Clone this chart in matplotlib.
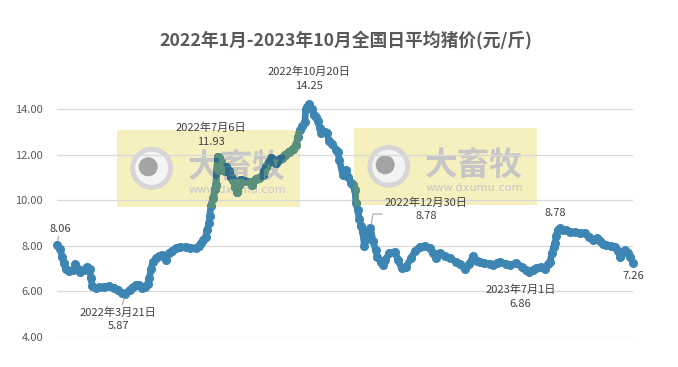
import matplotlib.pyplot as plt
from matplotlib.patches import Rectangle, Circle
from matplotlib.textpath import TextPath
from matplotlib.font_manager import FontProperties
from matplotlib.transforms import Affine2D
import pandas as pd

plt.rcParams['font.family'] = ['Noto Sans CJK SC', 'DejaVu Sans']

# daily average pig price, yuan per jin
dates = [
    '2022-01-01', '2022-01-05', '2022-01-07', '2022-01-09', '2022-01-11', '2022-01-15',
    '2022-01-20', '2022-01-22', '2022-01-25', '2022-01-28', '2022-02-01', '2022-02-05',
    '2022-02-08', '2022-02-09', '2022-02-11', '2022-02-15', '2022-02-19', '2022-02-25',
    '2022-03-02', '2022-03-08', '2022-03-13', '2022-03-17', '2022-03-21', '2022-03-26',
    '2022-03-30', '2022-04-03', '2022-04-06', '2022-04-10', '2022-04-13', '2022-04-16',
    '2022-04-18', '2022-04-20', '2022-04-22', '2022-04-26', '2022-04-29', '2022-05-03',
    '2022-05-07', '2022-05-11', '2022-05-14', '2022-05-19', '2022-05-24', '2022-05-30',
    '2022-06-04', '2022-06-11', '2022-06-14', '2022-06-17', '2022-06-19', '2022-06-22',
    '2022-06-24', '2022-06-26', '2022-06-27', '2022-06-28', '2022-07-01', '2022-07-03',
    '2022-07-04', '2022-07-05', '2022-07-06', '2022-07-08', '2022-07-10', '2022-07-12',
    '2022-07-14', '2022-07-16', '2022-07-19', '2022-07-21', '2022-07-24', '2022-07-26',
    '2022-07-29', '2022-07-31', '2022-08-02', '2022-08-06', '2022-08-12', '2022-08-15',
    '2022-08-19', '2022-08-23', '2022-08-27', '2022-08-29', '2022-08-31', '2022-09-03',
    '2022-09-06', '2022-09-09', '2022-09-12', '2022-09-16', '2022-09-19', '2022-09-22',
    '2022-09-27', '2022-10-01', '2022-10-05', '2022-10-07', '2022-10-09', '2022-10-12',
    '2022-10-15', '2022-10-16', '2022-10-18', '2022-10-20', '2022-10-23', '2022-10-26',
    '2022-10-28', '2022-10-30', '2022-11-01', '2022-11-03', '2022-11-07', '2022-11-10',
    '2022-11-12', '2022-11-16', '2022-11-20', '2022-11-22', '2022-11-24', '2022-11-28',
    '2022-12-02', '2022-12-04', '2022-12-08', '2022-12-10', '2022-12-12', '2022-12-13',
    '2022-12-15', '2022-12-17', '2022-12-19', '2022-12-21', '2022-12-23', '2022-12-25',
    '2022-12-28', '2022-12-30', '2023-01-02', '2023-01-05', '2023-01-07', '2023-01-11',
    '2023-01-13', '2023-01-16', '2023-01-21', '2023-01-27', '2023-01-31', '2023-02-04',
    '2023-02-09', '2023-02-15', '2023-02-20', '2023-02-25', '2023-03-03', '2023-03-09',
    '2023-03-12', '2023-03-16', '2023-03-20', '2023-03-26', '2023-04-01', '2023-04-08',
    '2023-04-13', '2023-04-18', '2023-04-23', '2023-04-28', '2023-05-02', '2023-05-06',
    '2023-05-11', '2023-05-17', '2023-05-21', '2023-05-25', '2023-05-29', '2023-06-05',
    '2023-06-09', '2023-06-17', '2023-06-23', '2023-06-28', '2023-07-01', '2023-07-06',
    '2023-07-10', '2023-07-15', '2023-07-20', '2023-07-24', '2023-07-26', '2023-07-28',
    '2023-07-30', '2023-08-01', '2023-08-02', '2023-08-04', '2023-08-07', '2023-08-10',
    '2023-08-13', '2023-08-18', '2023-08-24', '2023-08-30', '2023-09-04', '2023-09-09',
    '2023-09-14', '2023-09-18', '2023-09-22', '2023-09-25', '2023-09-29', '2023-10-04',
    '2023-10-09', '2023-10-13', '2023-10-15', '2023-10-18', '2023-10-21', '2023-10-24',
    '2023-10-27', '2023-10-30',
]
prices = [
    8.06, 7.85, 7.50, 7.25, 7.00, 6.92,
    6.95, 7.20, 7.00, 6.87, 6.95, 7.09,
    7.00, 6.60, 6.25, 6.15, 6.18, 6.20,
    6.22, 6.15, 6.05, 5.95, 5.87, 6.08,
    6.20, 6.30, 6.30, 6.15, 6.20, 6.35,
    6.60, 7.00, 7.30, 7.45, 7.55, 7.62,
    7.40, 7.69, 7.80, 7.91, 7.95, 7.97,
    7.93, 7.90, 8.00, 8.13, 8.25, 8.40,
    8.70, 9.00, 9.32, 9.75, 10.10, 10.50,
    10.70, 11.30, 11.93, 11.85, 11.70, 11.34,
    11.30, 11.49, 11.30, 11.05, 10.90, 10.60,
    10.39, 10.70, 10.90, 10.85, 10.80, 10.70,
    10.95, 11.00, 11.10, 11.30, 11.49, 11.70,
    11.86, 11.75, 11.63, 11.80, 11.86, 12.00,
    12.15, 12.25, 12.44, 12.80, 13.10, 13.25,
    13.46, 14.00, 14.10, 14.25, 14.00, 13.76,
    13.68, 13.50, 13.20, 12.95, 13.00, 12.95,
    12.60, 12.50, 12.22, 12.15, 11.78, 11.10,
    11.34, 11.05, 10.75, 10.68, 10.46, 9.90,
    9.60, 9.20, 8.88, 8.60, 8.00, 8.30,
    8.70, 8.78, 8.20, 7.82, 7.53, 7.30,
    7.16, 7.40, 7.68, 7.75, 7.38, 7.02,
    7.09, 7.46, 7.80, 7.97, 8.00, 7.90,
    7.70, 7.46, 7.68, 7.55, 7.46, 7.31,
    7.20, 6.98, 7.20, 7.55, 7.35, 7.30,
    7.25, 7.22, 7.16, 7.25, 7.31, 7.20,
    7.16, 7.24, 7.09, 6.95, 6.86, 6.95,
    7.02, 7.08, 7.00, 7.20, 7.30, 7.68,
    7.95, 8.12, 8.45, 8.70, 8.78, 8.70,
    8.72, 8.63, 8.60, 8.56, 8.58, 8.40,
    8.26, 8.34, 8.20, 8.10, 8.04, 8.00,
    7.97, 7.80, 7.53, 7.75, 7.82, 7.70,
    7.53, 7.26,
]

# labelled points: date, show the date text, label offset in pixels
label_dates = ['2022-01-01', '2022-03-21', '2022-07-06', '2022-10-20',
               '2022-12-30', '2023-08-07', '2023-07-01', '2023-10-30']
label_with_date = [False, True, True, True, True, False, True, False]
label_offsets = [(3, 16), (-7, -25), (-7, 22), (0, 25),
                 (56, 19), (-5, 15), (-8, -25), (0, -13)]

yticks = [4, 6, 8, 10, 12, 14]

blue = '#3d86b4'
green = '#58907b'
dark = '#2f6a8e'
text_c = '#404040'

x = pd.to_datetime(dates)

fig = plt.figure(figsize=(6.78, 3.67), dpi=100)
ax = fig.add_axes([57 / 678, 1 - 337 / 367, 576 / 678, 264 / 367])

line_kw = dict(lw=4.8, marker='o', ms=5.5, solid_capstyle='round', solid_joinstyle='round')
ax.plot(x, prices, color=blue, clip_on=False, zorder=2, **line_kw)

# watermark boxes (yellow, with logo); the line shows tinted through them
wm_font = FontProperties(family='Noto Sans CJK SC', weight='bold', size=23.5)
for dx, dy in [(0, 0), (237, -2)]:
    box = Rectangle(((117 + dx) / 678, 1 - (207 + dy) / 367), 183 / 678, 77 / 367,
                    transform=fig.transFigure, facecolor='#f6efbe', edgecolor='none',
                    zorder=0.2)
    ax.add_patch(box)
    cx, cy = (151.7 + dx) / 100, (367 - 168.3 - dy) / 100
    ax.add_patch(Circle((cx, cy), 0.19, transform=fig.dpi_scale_trans,
                        facecolor='#f4f4f4', edgecolor='#d6d6d6', lw=3.5, zorder=0.3))
    ax.add_patch(Circle((cx - 0.035, cy + 0.015), 0.095, transform=fig.dpi_scale_trans,
                        facecolor='#a4a4a4', edgecolor='none', zorder=0.31))
    bx, by = 188 + dx, 367 - 177 - dy
    ax.text(bx / 678, by / 367, '大畜牧', transform=fig.transFigure, ha='left',
            va='baseline', fontproperties=wm_font, color='#c6c6c6', zorder=0.3)
    ax.text((237.5 + dx) / 678, 1 - (190 + dy) / 367, 'www.dxumu.com',
            transform=fig.transFigure, ha='center', va='center', fontsize=8.2,
            family='DejaVu Sans', color='#c8c8c8', zorder=0.3)
    tint, = ax.plot(x, prices, color=green, zorder=2.1, **line_kw)
    tint.set_clip_path(Rectangle(((117 + dx) / 678, 1 - (207 + dy) / 367), 183 / 678,
                                 77 / 367, transform=fig.transFigure))
    shade, = ax.plot(x, prices, color=dark, zorder=2.2, **line_kw)
    glyphs = TextPath((0, 0), '大畜牧', prop=wm_font)
    shade.set_clip_path(glyphs, Affine2D().scale(100 / 72).translate(bx, by))

# data labels
for d, show, off in zip(label_dates, label_with_date, label_offsets):
    t = pd.Timestamp(d)
    v = prices[dates.index(d)]
    txt = f'{t.year}年{t.month}月{t.day}日\n{v:.2f}' if show else f'{v:.2f}'
    arrow = None
    if d in ('2022-01-01', '2022-03-21'):
        arrow = dict(arrowstyle='-', color='#a6a6a6', lw=0.8, shrinkA=0, shrinkB=3)
    elif d == '2022-12-30':
        arrow = dict(arrowstyle='-', color='#a6a6a6', lw=0.8, shrinkA=0, shrinkB=3,
                     relpos=(0, 0.3), connectionstyle='angle,angleA=0,angleB=80,rad=0')
    ax.annotate(txt, (t, v), xytext=off, textcoords='offset pixels', ha='center',
                va='center', fontsize=8, color=text_c, linespacing=1.45,
                arrowprops=arrow, zorder=3)

ax.set_xlim(x[0], x[-1])
ax.set_ylim(4, 15.6)
ax.set_yticks(yticks)
ax.set_yticklabels([f'{v:.2f}' for v in yticks])
ax.set_xticks([])
ax.set_axisbelow(True)
ax.grid(axis='y', color='#d9d9d9', lw=0.9, zorder=0.5)
ax.tick_params(axis='y', length=0, pad=10, labelsize=8, labelcolor='#595959')
for s in ax.spines.values():
    s.set_visible(False)

fig.text(346 / 678, 1 - 41 / 367, '2022年1月-2023年10月全国日平均猪价(元/斤)', ha='center',
         va='center', fontsize=12.8, fontweight='bold', color='#595959')

fig.savefig('out.png', dpi=100)
